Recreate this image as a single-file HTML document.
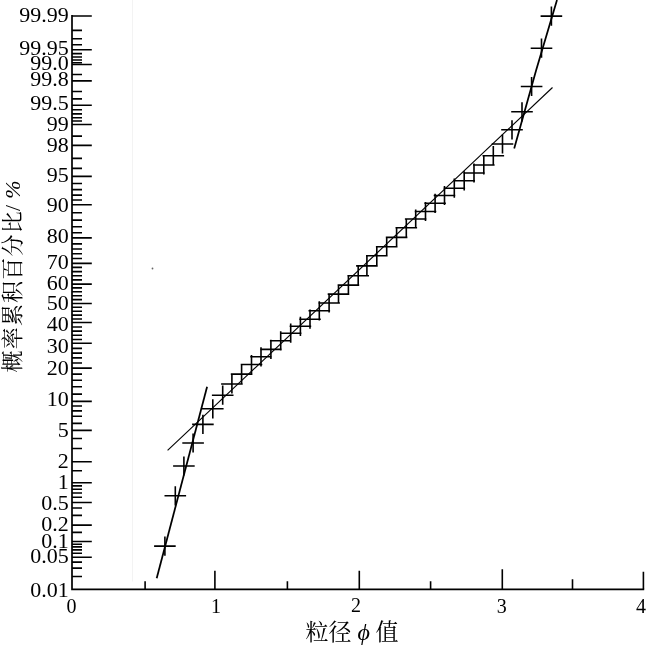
<!DOCTYPE html>
<html lang="zh-CN">
<head>
<meta charset="utf-8">
<title>概率累积曲线</title>
<style>
html,body{margin:0;padding:0;background:#fff;}
body{width:650px;height:647px;overflow:hidden;position:relative;}
svg{position:absolute;left:0;top:0;display:block;}
text{font-family:"Liberation Serif","Noto Serif CJK SC",serif;fill:#000;}
.yl{font-size:22px;text-anchor:end;}
.xl{font-size:20px;text-anchor:middle;}
.t{font-size:21px;}
.ax{stroke:#000;stroke-width:1.7;fill:none;}
.tk{stroke:#000;stroke-width:1.6;fill:none;}
.mk{stroke:#000;stroke-width:1.6;fill:none;}
.l1{stroke:#000;stroke-width:1.75;fill:none;stroke-linejoin:round;}
.l2{stroke:#000;stroke-width:1.15;fill:none;}
</style>
</head>
<body>
<svg width="650" height="647" viewBox="0 0 650 647">
<rect x="0" y="0" width="650" height="647" fill="#fff"/>
<line x1="132.5" y1="0" x2="132.5" y2="581.5" stroke="#f3f3f3" stroke-width="1"/>
<circle cx="152.5" cy="268.5" r="0.9" fill="#666"/>
<path class="ax" d="M72.0 15.0V589.3H644.2"/>
<path class="tk" d="M72.0 16.0h19.8M72.0 49.8h19.8M72.0 64.5h19.8M72.0 80.9h19.8M72.0 105.2h19.8M72.0 124.5h19.8M72.0 145.4h19.8M72.0 176.4h19.8M72.0 204.7h19.8M72.0 237.9h19.8M72.0 263.4h19.8M72.0 284.1h19.8M72.0 303.5h19.8M72.0 322.5h19.8M72.0 343.3h19.8M72.0 368.1h19.8M72.0 401.4h19.8M72.0 430.4h19.8M72.0 461.8h19.8M72.0 482.7h19.8M72.0 502.5h19.8M72.0 525.1h19.8M72.0 541.5h19.8M72.0 557.3h19.8"/>
<path class="tk" d="M72.0 30.4h10M72.0 38.8h10M72.0 44.8h10M72.0 53.6h10M72.0 57.0h10M72.0 60.0h10M72.0 62.7h10M72.0 74.5h10M72.0 91.5h10M72.0 98.9h10M72.0 109.7h10M72.0 113.9h10M72.0 117.7h10M72.0 121.0h10M72.0 136.1h10M72.0 158.4h10M72.0 168.4h10M72.0 183.5h10M72.0 189.6h10M72.0 195.1h10M72.0 200.0h10M72.0 212.8h10M72.0 220.1h10M72.0 226.7h10M72.0 232.8h10M72.0 243.9h10M72.0 249.0h10M72.0 253.8h10M72.0 258.5h10M72.0 267.4h10M72.0 271.6h10M72.0 275.8h10M72.0 279.9h10M72.0 287.9h10M72.0 291.8h10M72.0 295.7h10M72.0 299.6h10M72.0 576.5h10M72.0 568.1h10M72.0 562.1h10M72.0 553.3h10M72.0 549.9h10M72.0 546.9h10M72.0 544.2h10M72.0 532.4h10M72.0 515.4h10M72.0 508.0h10M72.0 497.2h10M72.0 493.0h10M72.0 489.2h10M72.0 485.9h10M72.0 470.8h10M72.0 448.5h10M72.0 438.5h10M72.0 423.4h10M72.0 416.2h10M72.0 410.9h10M72.0 406.0h10M72.0 394.1h10M72.0 386.8h10M72.0 380.2h10M72.0 374.1h10M72.0 363.0h10M72.0 357.9h10M72.0 353.1h10M72.0 348.4h10M72.0 339.5h10M72.0 335.3h10M72.0 331.1h10M72.0 327.0h10M72.0 319.0h10M72.0 315.1h10M72.0 311.2h10M72.0 307.3h10"/>
<path class="tk" d="M145.1 589.3v-8M214.9 589.3v-18.5M287.4 589.3v-8M359.3 589.3v-18.5M430.6 589.3v-8M502.3 589.3v-20M572.5 589.3v-10M643.4 589.3v-17.5"/>
<text class="yl" x="68.7" y="21.9">99.99</text>
<text class="yl" x="68.7" y="54.7">99.95</text>
<text class="yl" x="68.7" y="69.7">99.0</text>
<text class="yl" x="68.7" y="86.1">99.8</text>
<text class="yl" x="68.7" y="110.4">99.5</text>
<text class="yl" x="68.7" y="130.8">99</text>
<text class="yl" x="68.7" y="152.1">98</text>
<text class="yl" x="68.7" y="181.6">95</text>
<text class="yl" x="68.7" y="211.7">90</text>
<text class="yl" x="68.7" y="243.1">80</text>
<text class="yl" x="68.7" y="268.9">70</text>
<text class="yl" x="68.7" y="290.3">60</text>
<text class="yl" x="68.7" y="310.2">50</text>
<text class="yl" x="68.7" y="331.4">40</text>
<text class="yl" x="68.7" y="353.1">30</text>
<text class="yl" x="68.7" y="374.6">20</text>
<text class="yl" x="68.7" y="405.9">10</text>
<text class="yl" x="68.7" y="436.5">5</text>
<text class="yl" x="68.7" y="468.3">2</text>
<text class="yl" x="68.7" y="488.9">1</text>
<text class="yl" x="68.7" y="510.0">0.5</text>
<text class="yl" x="68.7" y="531.0">0.2</text>
<text class="yl" x="68.7" y="547.5">0.1</text>
<text class="yl" x="68.7" y="563.2">0.05</text>
<text class="yl" x="68.7" y="596.7">0.01</text>
<text class="xl" x="71.5" y="612.6">0</text>
<text class="xl" x="216" y="613">1</text>
<text class="xl" x="356" y="612.1">2</text>
<text class="xl" x="501.8" y="612.5">3</text>
<text class="xl" x="641.1" y="613.2">4</text>
<text class="t" y="640" style="font-size:23px"><tspan x="305.5">粒径</tspan><tspan x="357.5" font-style="italic" font-size="24">ϕ</tspan><tspan x="375.5">值</tspan></text>
<text class="t" transform="translate(20.3 372.5) rotate(-90)" style="font-size:22px;letter-spacing:1.2px">概率累积百分比<tspan dx="-1">/</tspan><tspan font-style="italic" dx="5">%</tspan></text>
<path class="l2" d="M167.6 450.4L552.5 87.5"/>
<path class="l1" d="M156.7 578.2L207.1 386.8"/>
<path class="l1" d="M514.2 148.4L536.2 70L557 0"/>
<path class="mk" d="M154.1 546.1h21.6M164.9 536.5v19.2M164.5 495.8h21.6M175.3 486.2v19.2M173.1 466.0h21.6M183.9 456.4v19.2M182.3 443.0h21.6M193.1 433.4v19.2M192.1 424.4h21.6M202.9 414.8v19.2M202.0 408.8h21.6M212.8 399.2v19.2M211.9 395.2h21.6M222.7 385.6v19.2M221.1 384.0h21.6M231.9 374.4v19.2M230.8 374.1h21.6M241.6 364.5v19.2M240.7 364.5h21.6M251.5 354.9v19.2M250.2 356.8h21.6M261.0 347.2v19.2M260.1 349.4h21.6M270.9 339.8v19.2M269.9 340.8h21.6M280.7 331.2v19.2M279.9 333.2h21.6M290.7 323.6v19.2M289.6 326.3h21.6M300.4 316.7v19.2M299.2 319.2h21.6M310.0 309.6v19.2M308.5 310.8h21.6M319.3 301.2v19.2M318.3 303.0h21.6M329.1 293.4v19.2M327.7 294.1h21.6M338.5 284.5v19.2M337.6 285.1h21.6M348.4 275.5v19.2M347.4 275.8h21.6M358.2 266.2v19.2M356.1 265.9h21.6M366.9 256.3v19.2M366.0 255.7h21.6M376.8 246.1v19.2M375.9 246.8h21.6M386.7 237.2v19.2M385.8 237.4h21.6M396.6 227.8v19.2M395.5 227.8h21.6M406.3 218.2v19.2M404.9 219.0h21.6M415.7 209.4v19.2M414.7 211.5h21.6M425.5 201.9v19.2M424.3 203.3h21.6M435.1 193.7v19.2M433.7 195.5h21.6M444.5 185.9v19.2M443.5 188.2h21.6M454.3 178.6v19.2M453.4 180.8h21.6M464.2 171.2v19.2M463.2 173.0h21.6M474.0 163.4v19.2M473.0 165.0h21.6M483.8 155.4v19.2M482.5 155.7h21.6M493.3 146.1v19.2M491.7 144.0h21.6M502.5 134.4v19.2M501.2 129.8h21.6M512.0 120.2v19.2M511.2 111.8h21.6M522.0 102.2v19.2M520.8 86.5h21.6M531.6 76.9v19.2M530.7 48.2h21.6M541.5 38.6v19.2M540.6 16.1h21.6M551.4 6.5v19.2"/>
</svg>
</body>
</html>
